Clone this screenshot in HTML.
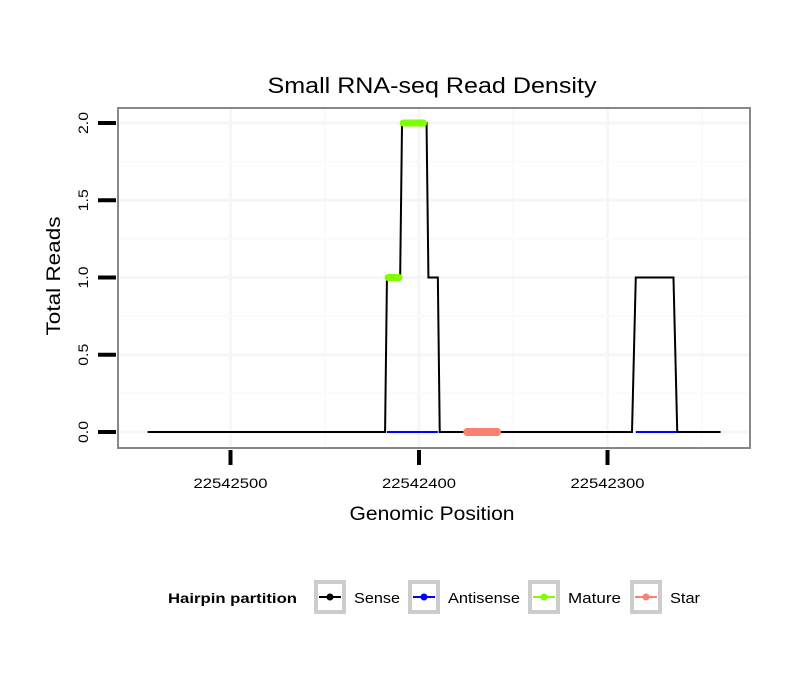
<!DOCTYPE html>
<html><head><meta charset="utf-8"><style>
body{margin:0;background:#fff}
svg text{font-family:"Liberation Sans",sans-serif}
</style></head><body>
<svg id="chart" width="810" height="690">
<text x="432" y="93" font-size="22" text-anchor="middle" textLength="329" lengthAdjust="spacingAndGlyphs">Small RNA-seq Read Density</text>
<rect x="118" y="108" width="632" height="340" fill="#fff"/>
<g id="grid"></g>
<g id="marks"></g>
<rect x="118" y="108" width="632" height="340" fill="none" stroke="#888" stroke-width="2"/>
<g id="axes"></g>
<text x="432" y="520" font-size="19" text-anchor="middle" textLength="165" lengthAdjust="spacingAndGlyphs">Genomic Position</text>
<text transform="translate(60,276) rotate(-90)" font-size="19" text-anchor="middle" textLength="119" lengthAdjust="spacingAndGlyphs">Total Reads</text>
<g>
<text x="168" y="603" font-size="14" font-weight="bold" textLength="129" lengthAdjust="spacingAndGlyphs">Hairpin partition</text>
<g id="legend"></g>
</g>
</svg>
<script>
const xTicks=[22542500,22542400,22542300];
const yTicks=[0,0.5,1,1.5,2];
const senseX=[22542544,22542418,22542417,22542410,22542409,22542396,22542395,22542390,22542389,22542287,22542285,22542265,22542263,22542240];
const senseY=[0,0,1,1,2,2,1,1,0,0,1,1,0,0];
const antisenseSegs=[[22542417,22542390],[22542285,22542263]];
const matureSegs=[[22542418,22542409,1],[22542410,22542396,2]];
const starSegs=[[22542376,22542357,0]];
const legendNames=["Sense","Antisense","Mature","Star"];
const legendColors=["#000","#00f","#7fff00","#fa8072"];

const NS="http://www.w3.org/2000/svg";
const X=p=>419+(22542400-p)*1.885;
const Y=v=>432-v*154.5;
function mk(tag,attrs,parent){const e=document.createElementNS(NS,tag);for(const k in attrs)e.setAttribute(k,attrs[k]);parent.appendChild(e);return e;}
const grid=document.getElementById('grid'),marks=document.getElementById('marks'),axes=document.getElementById('axes');
xTicks.forEach(t=>{
 const l=mk('line',{x1:X(t),x2:X(t),y1:109,y2:447,stroke:'#f6f6f6','stroke-width':3},grid);
 
 const m=mk('line',{x1:X(t-50),x2:X(t-50),y1:109,y2:447,stroke:'#fafafa','stroke-width':2},grid);
 
});
yTicks.forEach((t,i)=>{
 const l=mk('line',{x1:119,x2:749,y1:Y(t),y2:Y(t),stroke:'#f6f6f6','stroke-width':3},grid);
 
 if(i<yTicks.length-1){const m=mk('line',{x1:119,x2:749,y1:Y(t+0.25),y2:Y(t+0.25),stroke:'#fafafa','stroke-width':2},grid);
 }
});
const s=mk('polyline',{points:senseX.map((p,i)=>X(p)+','+Y(senseY[i])).join(' '),fill:'none',stroke:'#000','stroke-width':2},marks);

antisenseSegs.forEach(a=>{const l=mk('line',{x1:X(a[0]),x2:X(a[1]),y1:Y(0),y2:Y(0),stroke:'#00f','stroke-width':2},marks);
 });
matureSegs.forEach(a=>{const l=mk('line',{x1:X(a[0])+3,x2:X(a[1])-3,y1:Y(a[2]),y2:Y(a[2]),stroke:'#7fff00','stroke-width':7,'stroke-linecap':'round'},marks);
 });
starSegs.forEach(a=>{const l=mk('line',{x1:X(a[0])+3,x2:X(a[1])-3,y1:Y(a[2]),y2:Y(a[2]),stroke:'#fa8072','stroke-width':8,'stroke-linecap':'round'},marks);
 });
xTicks.forEach(t=>{
 const l=mk('line',{x1:X(t),x2:X(t),y1:450,y2:465,stroke:'#000','stroke-width':4},axes);
 
 const tx=mk('text',{x:X(t),y:488,'font-size':14,'text-anchor':'middle',textLength:74,lengthAdjust:'spacingAndGlyphs'},axes);tx.textContent=t;
 
});
yTicks.forEach(t=>{
 const l=mk('line',{x1:98,x2:116,y1:Y(t),y2:Y(t),stroke:'#000','stroke-width':4},axes);
 
 const tx=mk('text',{transform:`translate(88,${Y(t)}) rotate(-90)`,'font-size':14,'text-anchor':'middle',textLength:22,lengthAdjust:'spacingAndGlyphs'},axes);tx.textContent=t.toFixed(1);
 
});
const lg=document.getElementById('legend');
const lx=[314,408,528,630];
const lw=[46,72,53,30];
legendNames.forEach((n,i)=>{
 const g=mk('g',{},lg);
 mk('rect',{x:lx[i]+2,y:582,width:28,height:30,fill:'#fff',stroke:'#ccc','stroke-width':4},g);
 mk('line',{x1:lx[i]+5,x2:lx[i]+27,y1:597,y2:597,stroke:legendColors[i],'stroke-width':2},g);
 mk('circle',{cx:lx[i]+16,cy:597,r:3.5,fill:legendColors[i]},g);
 const t=mk('text',{x:lx[i]+40,y:603,'font-size':15,textLength:lw[i],lengthAdjust:'spacingAndGlyphs'},g);t.textContent=n;
});
</script>
</body></html>
